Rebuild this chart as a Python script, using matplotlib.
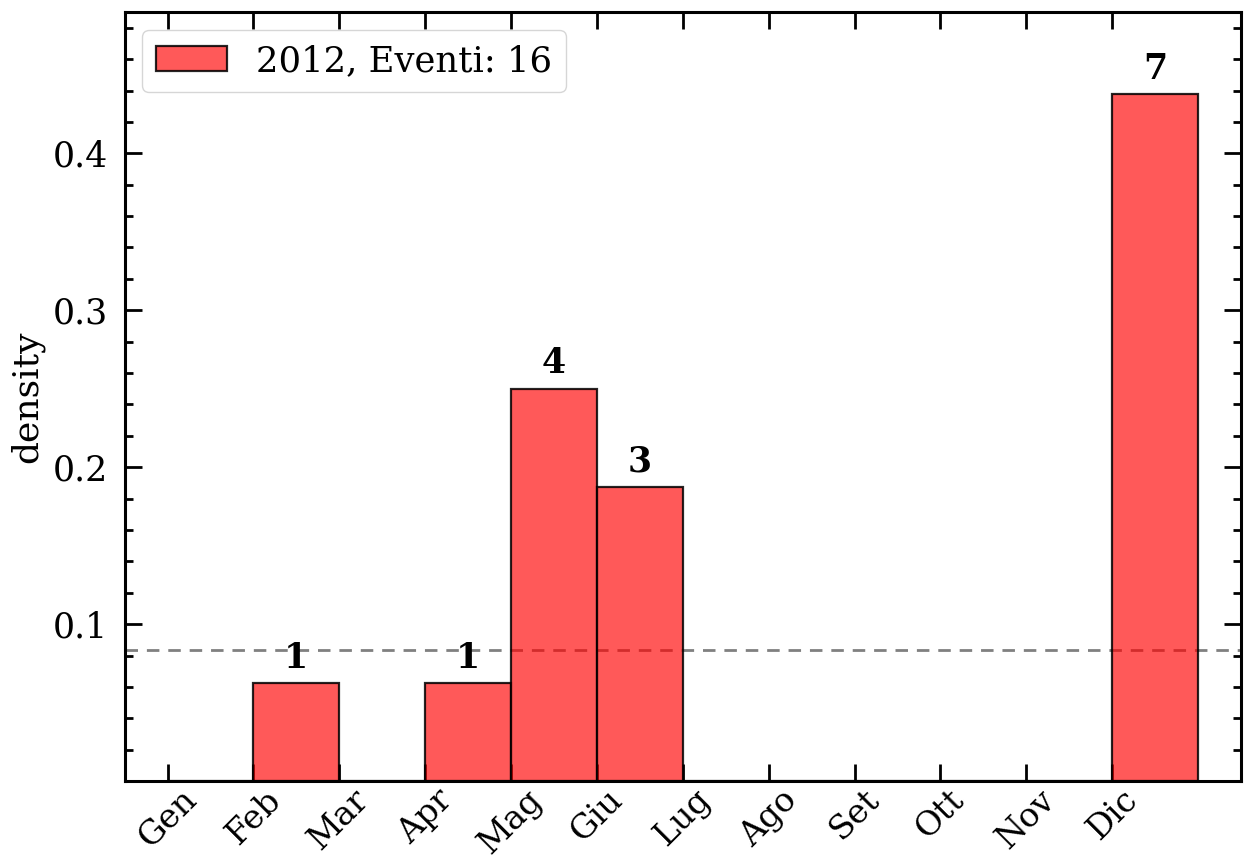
import numpy as np
import matplotlib
matplotlib.use("Agg")
import matplotlib.pyplot as plt
from matplotlib.ticker import MultipleLocator

# monthly event counts, 2012
mesi = ['Gen', 'Feb', 'Mar', 'Apr', 'Mag', 'Giu',
        'Lug', 'Ago', 'Set', 'Ott', 'Nov', 'Dic']
conteggi = [0, 1, 0, 1, 4, 3, 0, 0, 0, 0, 0, 7]
anno = 2012

plt.rcParams['font.family'] = 'DejaVu Serif'
plt.rcParams['font.size'] = 25

n_tot = sum(conteggi)
mese_num = np.arange(1, 13)
densita = np.array(conteggi) / n_tot

fig = plt.figure(figsize=(12.46, 8.64), dpi=100)
ax = fig.add_axes([0.1, 0.096, 0.896, 0.89])

# uniform reference level
ax.axhline(1 / 12, color='gray', ls='--', lw=2, dashes=(4.5, 3.2), zorder=1)

ax.bar(mese_num, densita, width=1, align='edge', facecolor=(1, 0, 0, 0.65),
       edgecolor=(0, 0, 0, 0.85), linewidth=1.6, zorder=2,
       label='%d, Eventi: %d' % (anno, n_tot))

for m, c, d in zip(mese_num, conteggi, densita):
    if c > 0:
        ax.annotate(str(c), (m + 0.5, d), xytext=(0, 6), textcoords='offset points',
                    ha='center', va='bottom', fontweight='bold', fontsize=25)

ax.set_xlim(0.5, 13.5)
ax.set_ylim(0, 0.49)
ax.set_xticks(mese_num)
ax.set_xticklabels(mesi, rotation=45, fontsize=24)
ax.set_yticks([0.1, 0.2, 0.3, 0.4])
ax.yaxis.set_minor_locator(MultipleLocator(0.02))
ax.set_ylabel('density', fontsize=26, labelpad=6)

ax.tick_params(which='both', direction='in', top=True, right=True, width=2)
ax.tick_params(which='major', length=12)
ax.tick_params(which='minor', length=6)
ax.tick_params(axis='y', which='major', pad=12)
ax.tick_params(axis='x', which='major', pad=2)
for s in ax.spines.values():
    s.set_linewidth(2.2)

ax.legend(loc='upper left', fontsize=25.5, handlelength=2.0)

fig.savefig('out.png', dpi=100)
